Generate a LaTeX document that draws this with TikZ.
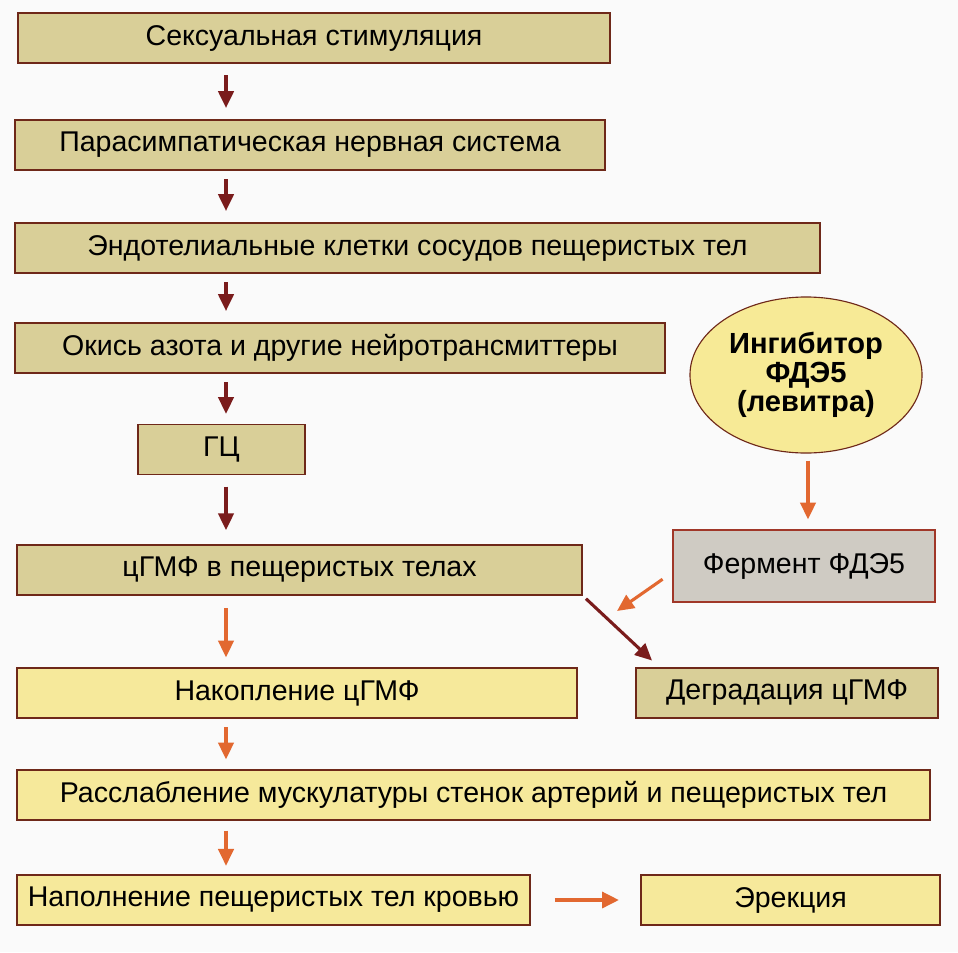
\documentclass[tikz,border=0pt]{standalone}
\usepackage{fontspec}
\setmainfont{Liberation Sans}
\usetikzlibrary{arrows.meta,shapes.geometric,calc}
\definecolor{khaki}{RGB}{217,207,152}
\definecolor{paleyel}{RGB}{246,233,155}
\definecolor{ovalyel}{RGB}{247,234,150}
\definecolor{ferm}{RGB}{207,203,195}
\definecolor{boxline}{RGB}{110,40,25}
\definecolor{fermline}{RGB}{160,55,40}
\definecolor{darkarr}{RGB}{122,28,28}
\definecolor{orarr}{RGB}{226,104,48}
\definecolor{bgcol}{RGB}{250,250,250}
\begin{document}
\begin{tikzpicture}[x=0.025cm,y=-0.025cm,
  box/.style={draw=boxline,line width=1.1pt,inner sep=0pt,minimum height=1.25cm,
    font=\fontsize{20.3pt}{24pt}\selectfont},
  oldbox/.style={box,fill=khaki},
  newbox/.style={box,fill=paleyel},
  darkflow/.style={-{Triangle[length=12pt,width=11pt]},draw=darkarr,line width=2.2pt},
  orflow/.style={-{Triangle[length=12pt,width=11pt]},draw=orarr,line width=2.2pt}]
  \fill[bgcol] (0,0) rectangle (958,952);
  \useasboundingbox (0,0) rectangle (958,952);
  % cascade
  \node[oldbox,minimum width=14.8cm] (stim) at (314,38) {Сексуальная стимуляция};
  \node[oldbox,minimum width=14.75cm] (para) at (310,145) {Парасимпатическая нервная система};
  \node[oldbox,minimum width=20.125cm] (endo) at (417.5,248) {Эндотелиальные клетки сосудов пещеристых тел};
  \node[oldbox,minimum width=16.25cm] (no) at (340,348) {Окись азота и другие нейротрансмиттеры};
  \node[oldbox,minimum width=4.175cm] (gc) at (221.5,449.5) {ГЦ};
  \node[oldbox,minimum width=14.125cm] (cgmp) at (299.5,570) {цГМФ в пещеристых телах};
  \node[newbox,minimum width=14cm] (accum) at (297,693) {Накопление цГМФ};
  \node[newbox,minimum width=22.825cm] (relax) at (473.5,795) {Расслабление мускулатуры стенок артерий и пещеристых тел};
  \node[newbox,minimum width=12.825cm] (fill) at (273.5,900) {Наполнение пещеристых тел кровью};
  \node[newbox,minimum width=7.475cm] (erect) at (790.5,900) {Эрекция};
  % inhibitor side
  \node[ellipse,draw=boxline,line width=0.8pt,fill=ovalyel,minimum width=5.8cm,minimum height=3.9cm,
    inner sep=0pt,align=center,font=\fontsize{20.7pt}{20.8pt}\selectfont\bfseries] (inh) at (806,375)
    {Ингибитор\\ФДЭ5\\(левитра)};
  \node[box,fill=ferm,draw=fermline,minimum width=6.55cm,minimum height=1.8cm] (pde) at (804,566) {Фермент ФДЭ5};
  \node[oldbox,minimum width=7.55cm] (degr) at (787,693) {Деградация цГМФ};
  \coordinate (spine) at (226,0);
  \coordinate (hit) at (617,611);
  % arrows
  \draw[darkflow,shorten <=8pt,shorten >=8pt] (stim.south -| spine) -- (para.north -| spine);
  \draw[darkflow,shorten <=6pt,shorten >=8pt] (para.south -| spine) -- (endo.north -| spine);
  \draw[darkflow,shorten <=6pt,shorten >=8pt] (endo.south -| spine) -- (no.north -| spine);
  \draw[darkflow,shorten <=6pt,shorten >=7pt] (no.south -| spine) -- (gc.north -| spine);
  \draw[darkflow,shorten <=8pt,shorten >=10pt] (gc.south -| spine) -- (cgmp.north -| spine);
  \draw[orflow,shorten <=9pt,shorten >=7pt] (cgmp.south -| spine) -- (accum.north -| spine);
  \draw[orflow,shorten <=6pt,shorten >=7pt] (accum.south -| spine) -- (relax.north -| spine);
  \draw[orflow,shorten <=7pt,shorten >=6pt] (relax.south -| spine) -- (fill.north -| spine);
  \draw[orflow,line width=3pt,shorten <=17pt,shorten >=15pt] (fill.east) -- (erect.west);
  \draw[orflow,shorten <=5pt,shorten >=7pt] ($(inh.south)+(2,0)$) -- ($(pde.north)+(4,0)$);
  \draw[orflow,shorten <=4pt] ($(pde.west)+(-5,10)$) -- (hit);
  \draw[darkflow,shorten <=3pt,shorten >=7pt] (cgmp.south east) -- ($(degr.north west)+(24,0)$);
\end{tikzpicture}
\end{document}
